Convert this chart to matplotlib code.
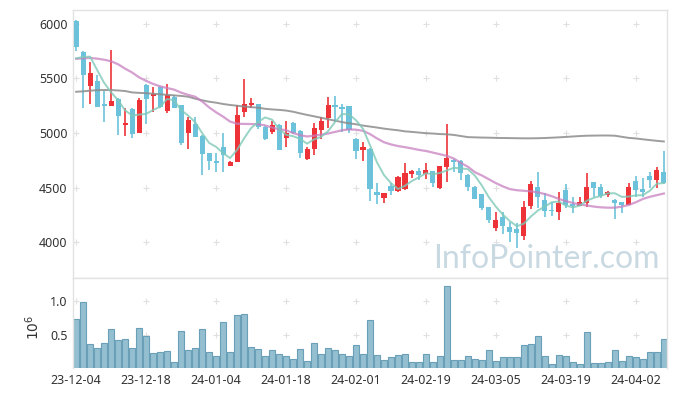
import numpy as np
import matplotlib
matplotlib.use("Agg")
import matplotlib.pyplot as plt

# daily prices (Dec 2023 - Apr 2024)
opens = [6030, 5740, 5434, 5477, 5265, 5250, 5312, 5076, 5217, 5003,
         5440, 5343, 5425, 5205, 5333, 5257, 5003, 5083, 4973, 4817,
         4743, 4875, 4700, 4737, 5196, 5260, 5263, 5059, 5012, 5073,
         4957, 5092, 5018, 4761, 4853, 5028, 5135, 5251, 5241, 5248,
         4945, 4847, 4853, 4456, 4407, 4513, 4468, 4483, 4627, 4651,
         4621, 4651, 4498, 4691, 4755, 4746, 4615, 4505, 4437, 4318,
         4131, 4226, 4135, 4119, 4055, 4333, 4502, 4385, 4290, 4272,
         4474, 4349, 4333, 4355, 4548, 4505, 4428, 4385, 4367, 4340,
         4556, 4486, 4603, 4569, 4645]
closes = [5790, 5530, 5548, 5240, 5250, 5295, 5160, 5095, 4990, 5303,
          5310, 5358, 5241, 5350, 5232, 4910, 5117, 4966, 4807, 4746,
          4728, 4800, 4734, 5165, 5263, 5275, 5053, 4945, 5073, 4845,
          4997, 4997, 4820, 4850, 5043, 5110, 5257, 5241, 5220, 5028,
          4838, 4869, 4483, 4431, 4447, 4471, 4596, 4633, 4654, 4617,
          4657, 4544, 4697, 4771, 4737, 4630, 4507, 4395, 4315, 4202,
          4202, 4143, 4095, 4085, 4318, 4530, 4416, 4280, 4280, 4355,
          4340, 4333, 4364, 4502, 4493, 4422, 4456, 4361, 4340, 4505,
          4477, 4462, 4569, 4661, 4538]
highs = [6040, 5750, 5650, 5530, 5385, 5760, 5320, 5232, 5225, 5320,
         5450, 5425, 5435, 5450, 5345, 5260, 5150, 5150, 4980, 4820,
         4815, 5003, 4745, 5257, 5495, 5320, 5270, 5065, 5113, 5080,
         5113, 5100, 5025, 4870, 5095, 5150, 5327, 5342, 5266, 5250,
         4950, 4915, 4860, 4538, 4450, 4538, 4610, 4722, 4660, 4676,
         4722, 4655, 4700, 5080, 4760, 4755, 4620, 4510, 4440, 4320,
         4272, 4278, 4186, 4170, 4379, 4560, 4639, 4447, 4370, 4462,
         4530, 4410, 4410, 4636, 4555, 4530, 4465, 4390, 4370, 4545,
         4606, 4590, 4645, 4691, 4835]
lows = [5750, 5230, 5270, 5235, 5105, 5245, 4985, 4975, 4957, 5000,
        5080, 5195, 5230, 5180, 5225, 4890, 4850, 4960, 4615, 4660,
        4645, 4645, 4695, 4735, 5145, 5225, 5040, 4940, 4990, 4840,
        4875, 4990, 4768, 4755, 4798, 4945, 5043, 5104, 5012, 4997,
        4760, 4743, 4376, 4349, 4355, 4431, 4462, 4480, 4584, 4569,
        4575, 4502, 4490, 4553, 4645, 4569, 4468, 4390, 4294, 4172,
        4104, 4070, 4003, 3942, 4018, 4300, 4309, 4232, 4241, 4202,
        4315, 4264, 4328, 4324, 4416, 4407, 4410, 4208, 4264, 4335,
        4416, 4416, 4493, 4493, 4535]

# moving averages as drawn on the chart
ma5 = [5685, 5697, 5700, 5578, 5460, 5373, 5299, 5208, 5160, 5169,
       5175, 5211, 5240, 5312, 5300, 5210, 5160, 5100, 5000, 4909,
       4873, 4815, 4770, 4845, 4950, 5045, 5100, 5143, 5122, 5038,
       4983, 4971, 4946, 4902, 4941, 4964, 5016, 5100, 5174, 5171,
       5117, 5039, 4888, 4730, 4614, 4540, 4486, 4516, 4560, 4594,
       4631, 4621, 4634, 4657, 4681, 4676, 4668, 4608, 4517, 4410,
       4324, 4251, 4191, 4145, 4169, 4234, 4289, 4326, 4365, 4372,
       4334, 4318, 4334, 4379, 4406, 4423, 4447, 4447, 4414, 4417,
       4428, 4429, 4471, 4535, 4541]
ma20 = [5680, 5685, 5688, 5682, 5672, 5658, 5630, 5590, 5555, 5510,
        5478, 5450, 5428, 5412, 5398, 5370, 5350, 5333, 5290, 5235,
        5190, 5150, 5105, 5085, 5083, 5082, 5080, 5070, 5050, 5035,
        5025, 5000, 4980, 4968, 4975, 4985, 4995, 5010, 5025, 5033,
        5030, 5020, 4990, 4950, 4915, 4895, 4880, 4870, 4858, 4845,
        4835, 4820, 4805, 4790, 4765, 4725, 4690, 4640, 4610, 4575,
        4540, 4510, 4485, 4475, 4470, 4465, 4455, 4440, 4420, 4395,
        4375, 4358, 4345, 4335, 4325, 4318, 4315, 4315, 4325, 4340,
        4365, 4395, 4415, 4430, 4445]
ma60 = [5378, 5382, 5388, 5393, 5394, 5394, 5390, 5385, 5372, 5368,
        5365, 5360, 5355, 5350, 5345, 5340, 5333, 5315, 5300, 5287,
        5278, 5266, 5257, 5250, 5243, 5237, 5232, 5222, 5216, 5212,
        5206, 5195, 5180, 5166, 5153, 5140, 5126, 5113, 5100, 5089,
        5080, 5068, 5059, 5050, 5040, 5032, 5025, 5015, 5010, 5004,
        4998, 4995, 4990, 4988, 4982, 4972, 4962, 4960, 4958, 4957,
        4955, 4954, 4953, 4952, 4951, 4951, 4952, 4954, 4957, 4960,
        4964, 4968, 4972, 4975, 4976, 4977, 4977, 4975, 4965, 4955,
        4950, 4942, 4935, 4928, 4922]

# volume in millions of shares
volumes = [0.735, 0.99, 0.36, 0.30, 0.375, 0.585, 0.42, 0.435, 0.30, 0.60,
           0.48, 0.225, 0.24, 0.255, 0.09, 0.555, 0.27, 0.30, 0.585, 0.24,
           0.18, 0.69, 0.24, 0.795, 0.81, 0.315, 0.285, 0.18, 0.27, 0.21,
           0.18, 0.135, 0.285, 0.105, 0.375, 0.21, 0.30, 0.27, 0.21, 0.18,
           0.345, 0.21, 0.72, 0.195, 0.12, 0.165, 0.195, 0.21, 0.09, 0.09,
           0.21, 0.09, 0.18, 1.23, 0.12, 0.12, 0.18, 0.135, 0.12, 0.27,
           0.105, 0.165, 0.165, 0.165, 0.345, 0.36, 0.48, 0.18, 0.06, 0.195,
           0.18, 0.09, 0.06, 0.54, 0.075, 0.075, 0.09, 0.27, 0.105, 0.18,
           0.165, 0.135, 0.24, 0.24, 0.435]

tick_pos = [0, 10, 20, 30, 40, 50, 60, 70, 80]
tick_labels = ["23-12-04", "23-12-18", "24-01-04", "24-01-18", "24-02-01",
               "24-02-19", "24-03-05", "24-03-19", "24-04-02"]

plt.rcParams['font.family'] = ['Noto Sans', 'DejaVu Sans']

up_color = "#ee3338"
down_color = "#6cc2da"
grid_color = "#e0e0e0"
text_color = "#333333"

x = np.arange(len(closes))
o = np.array(opens)
c = np.array(closes)
up = c >= o

fig = plt.figure(figsize=(6.77, 3.96), dpi=100)
ax = fig.add_axes([73 / 677, 1 - 278 / 396, 594 / 677, 268 / 396])
axv = fig.add_axes([73 / 677, 1 - 368 / 396, 594 / 677, 90 / 396], sharex=ax)

# candles
colors = np.where(up, up_color, down_color)
ax.vlines(x, lows, highs, colors=colors, linewidth=1.2, zorder=2)
body_h = np.maximum(np.abs(c - o), 12)
ax.bar(x, body_h, bottom=np.minimum(o, c), width=0.72, color=colors,
       linewidth=0, zorder=3)

# moving averages
ax.plot(x, ma60, color="#8c8c8c", linewidth=1.4, alpha=0.85, zorder=4)
ax.plot(x, ma20, color="#c77fc0", linewidth=1.6, alpha=0.75, zorder=4)
ax.plot(x, ma5, color="#7ec9b8", linewidth=1.4, alpha=0.8, zorder=4)

ax.set_xlim(-0.45, 84.45)
ax.set_ylim(3670, 6128)
ax.set_yticks([4000, 4500, 5000, 5500, 6000])

# grid crosses
gx, gy = np.meshgrid(tick_pos, [4000, 4500, 5000, 5500, 6000])
ax.scatter(gx.ravel(), gy.ravel(), marker="+", s=14, color=grid_color,
           linewidths=0.8, zorder=1)

ax.text(0.988, 0.015, "InfoPointer.com", transform=ax.transAxes,
        ha="right", va="bottom", fontsize=23, color="#c9d9e2",
        family=["Lato", "DejaVu Sans"], zorder=5)

# volume
axv.bar(x, volumes, width=0.92, color="#94bfd0", edgecolor="#6a9fb8",
        linewidth=0.8, zorder=2)
axv.set_ylim(0, 1.35)
axv.set_yticks([0.5, 1.0])
axv.set_yticklabels(["0.5", "1.0"])
vx, vy = np.meshgrid(tick_pos, [0.5, 1.0])
axv.scatter(vx.ravel(), vy.ravel(), marker="+", s=14, color=grid_color,
            linewidths=0.8, zorder=1)
axv.text(-0.066, 0.45, r"$10^6$", transform=axv.transAxes, rotation=90,
         ha="center", va="center", fontsize=10, color=text_color)

axv.set_xticks(tick_pos)
axv.set_xticklabels(tick_labels)

for a in (ax, axv):
    for s in a.spines.values():
        s.set_color("#e2e2e2")
        s.set_linewidth(1.0)
    a.tick_params(length=0, labelsize=9, colors=text_color, pad=4)
axv.spines["bottom"].set_visible(False)
ax.tick_params(axis="x", labelbottom=False)

fig.savefig("out.png", dpi=100)
